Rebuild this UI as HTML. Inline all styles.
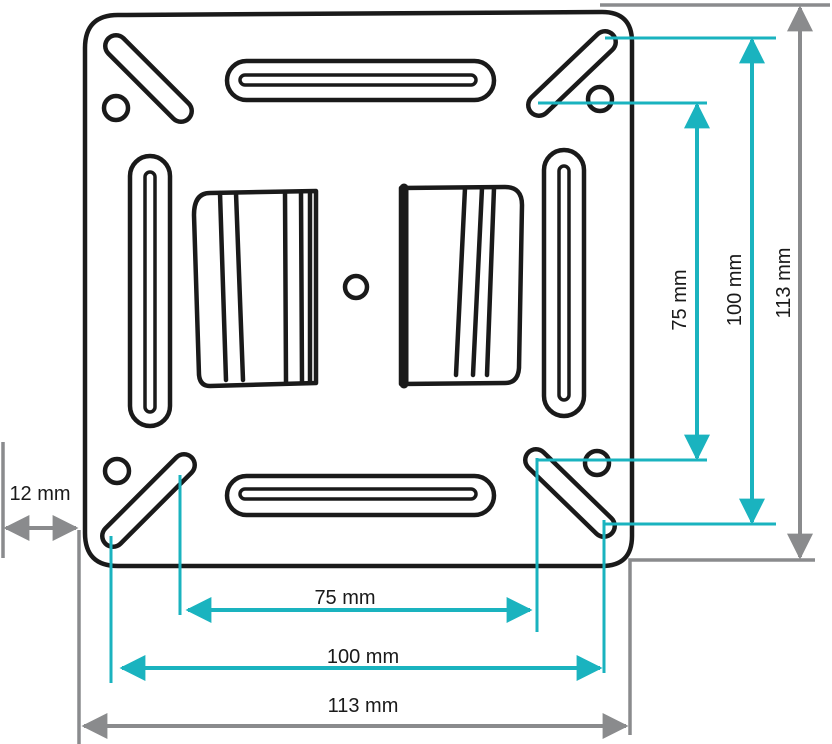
<!DOCTYPE html>
<html><head><style>body{margin:0;background:#fff}svg{display:block}</style></head><body>
<svg width="832" height="744" viewBox="0 0 832 744" xmlns="http://www.w3.org/2000/svg">
<defs>
<marker id="t" viewBox="0 0 10 10" refX="9" refY="5" markerWidth="6.5" markerHeight="6.5" orient="auto-start-reverse" markerUnits="strokeWidth"><path d="M0,0L10,5L0,10z" fill="#1ab3bf"/></marker>
<marker id="g" viewBox="0 0 10 10" refX="9" refY="5" markerWidth="6.5" markerHeight="6.5" orient="auto-start-reverse" markerUnits="strokeWidth"><path d="M0,0L10,5L0,10z" fill="#8a8b8d"/></marker>
</defs>
<g fill="none" stroke="#1a1a1a" stroke-width="4.5" stroke-linecap="round" stroke-linejoin="round">
<path d="M118,15 L602,12 Q632,12 632,42 L632,536 Q632,566 602,566 L118,566 Q85,566 85,533 L85,48 Q85,15 118,15Z"/>
<rect x="227" y="61" width="267" height="39" rx="19.5"/>
<rect x="240" y="75" width="236" height="10" rx="5" stroke-width="3.5"/>
<rect x="227" y="476" width="267" height="39" rx="19.5"/>
<rect x="240" y="489" width="236" height="10" rx="5" stroke-width="3.5"/>
<rect x="130" y="156" width="40" height="270" rx="20"/>
<rect x="145" y="172" width="10" height="240" rx="5" stroke-width="3.5"/>
<rect x="544" y="150" width="40" height="266" rx="20"/>
<rect x="559" y="166" width="10" height="234" rx="5" stroke-width="3.5"/>
<g stroke-width="26"><line x1="116" y1="46" x2="181" y2="111"/><line x1="605" y1="42" x2="539" y2="105"/><line x1="184" y1="465" x2="113" y2="536"/><line x1="536" y1="460" x2="604" y2="526"/></g>
<g stroke="#fff" stroke-width="17"><line x1="116" y1="46" x2="181" y2="111"/><line x1="605" y1="42" x2="539" y2="105"/><line x1="184" y1="465" x2="113" y2="536"/><line x1="536" y1="460" x2="604" y2="526"/></g>
<circle cx="116" cy="108" r="12"/><circle cx="600" cy="99" r="12"/><circle cx="117" cy="471" r="12"/><circle cx="597" cy="463" r="12"/><circle cx="356" cy="287" r="11"/>
<path d="M210,193 L316,191 L316,383 L210,386 Q200,386 199,375 L194,215 Q194,193 210,193Z"/>
<line x1="220" y1="193" x2="226" y2="380"/><line x1="236" y1="193" x2="243" y2="380"/><line x1="285" y1="192" x2="286" y2="382"/><line x1="301" y1="192" x2="302" y2="382"/><line x1="310" y1="192" x2="310" y2="382"/>
<path d="M401,188 L505,187 Q522,187 522,205 L519,368 Q518,383 505,383 L401,384Z"/>
<line x1="404" y1="188" x2="404" y2="384" stroke-width="9"/>
<line x1="465" y1="188" x2="456" y2="375"/><line x1="482" y1="188" x2="473" y2="375"/><line x1="494" y1="188" x2="487" y2="375"/>
</g>
<g stroke="#1ab3bf" stroke-width="3">
<line x1="538" y1="103" x2="707" y2="103"/><line x1="538" y1="460" x2="707" y2="460"/>
<line x1="697" y1="105" x2="697" y2="458" stroke-width="4" marker-start="url(#t)" marker-end="url(#t)"/>
<line x1="605" y1="38" x2="776" y2="38"/><line x1="605" y1="524" x2="776" y2="524"/>
<line x1="752" y1="40" x2="752" y2="522" stroke-width="4" marker-start="url(#t)" marker-end="url(#t)"/>
<line x1="180" y1="475" x2="180" y2="615"/><line x1="537" y1="458" x2="537" y2="632"/>
<line x1="188" y1="610" x2="530" y2="610" stroke-width="4" marker-start="url(#t)" marker-end="url(#t)"/>
<line x1="111" y1="536" x2="111" y2="683"/><line x1="604" y1="520" x2="604" y2="673"/>
<line x1="122" y1="668" x2="600" y2="668" stroke-width="4" marker-start="url(#t)" marker-end="url(#t)"/>
</g>
<g stroke="#8a8b8d" stroke-width="3.5" fill="none">
<path d="M600,5 L830,5"/><path d="M630,735 L630,560 L815,560"/>
<line x1="800" y1="8" x2="800" y2="557" stroke-width="4" marker-start="url(#g)" marker-end="url(#g)"/>
<line x1="79" y1="530" x2="79" y2="744"/>
<line x1="84" y1="726" x2="626" y2="726" stroke-width="4" marker-start="url(#g)" marker-end="url(#g)"/>
<line x1="3" y1="442" x2="3" y2="558"/>
<line x1="6" y1="528" x2="76" y2="528" stroke-width="4" marker-start="url(#g)" marker-end="url(#g)"/>
</g>
<g font-family="Liberation Sans, sans-serif" font-size="20" fill="#1a1a1a">
<text x="345" y="604" text-anchor="middle">75 mm</text>
<text x="363" y="663" text-anchor="middle">100 mm</text>
<text x="363" y="712" text-anchor="middle">113 mm</text>
<text x="40" y="500" text-anchor="middle">12 mm</text>
<text transform="translate(686,300) rotate(-90)" text-anchor="middle">75 mm</text>
<text transform="translate(741,290) rotate(-90)" text-anchor="middle">100 mm</text>
<text transform="translate(790,283) rotate(-90)" text-anchor="middle">113 mm</text>
</g>
</svg>
</body></html>
